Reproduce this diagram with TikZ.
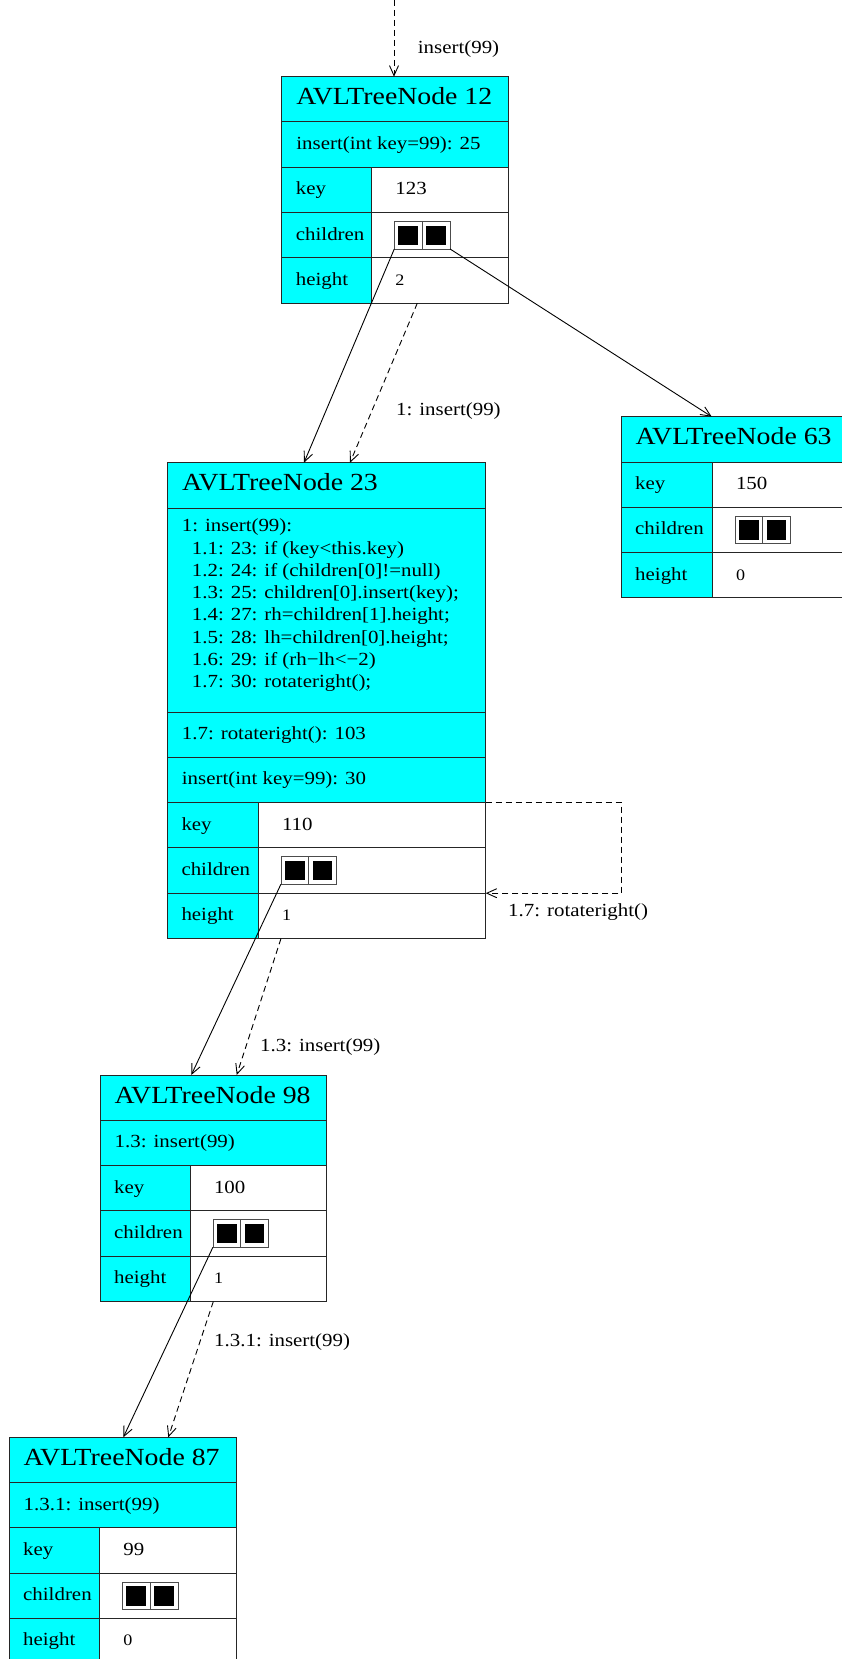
\documentclass[tikz,border=0pt]{standalone}
\usepackage{fontspec}
\setmainfont{Liberation Serif}[FakeStretch=1.13]
\usetikzlibrary{arrows.meta}

\definecolor{avlcyan}{RGB}{0,255,255}
\definecolor{edge}{gray}{0.15}

\newcommand\rh{45.3}

\tikzset{
  cellbox/.style={draw=edge, line width=1pt, inner sep=0pt, outer sep=0pt,
    anchor=north west, rectangle},
  cy/.style={cellbox, fill=avlcyan},
  wh/.style={cellbox, fill=white},
  frame/.style={draw=edge, line width=1pt, inner sep=0pt, outer sep=0pt,
    anchor=north west, rectangle},
  ttl/.style={anchor=base west, inner sep=0pt, font=\fontsize{24.6}{29}\selectfont},
  txt/.style={anchor=base west, inner sep=0pt, font=\fontsize{18.5}{22}\selectfont},
  small/.style={anchor=base west, inner sep=0pt, font=\fontsize{16}{19}\selectfont},
  kidsframe/.style={draw=black!70, fill=white, line width=0.8pt, inner sep=0pt,
    outer sep=0pt, minimum width=55.7pt, minimum height=27.4pt, anchor=west},
  blk/.style={fill=black, draw=none, inner sep=0pt, minimum width=19.7pt,
    minimum height=19.4pt},
  link/.style={line width=0.9pt, -{Straight Barb[length=10pt,width=9pt]}},
  msg/.style={link, dash pattern=on 6pt off 4pt},
}

% An AVL tree node: title row, an optional cyan area below it,
% and the three fields key / children / height.
% #1 id, #2 left, #3 top, #4 width, #5 key column width,
% #6 title, #7 key value, #8 height value, #9 height of the area below the title
\newcommand\avlnode[9]{%
  \node[cy, minimum width=#4, minimum height=\rh] (#1t) at (#2,#3) {};
  \node[ttl] (#1tl) at (#2+14.5,#3+\rh/2+5.6) {#6};
  \pgfmathsetmacro\fy{#3+\rh+#9}%
  % key
  \node[cy, minimum width=#5, minimum height=\rh] (#1kk) at (#2,\fy) {};
  \node[wh, minimum width=#4-#5, minimum height=\rh] (#1kv) at (#2+#5,\fy) {};
  \node[txt] (#1kkl) at (#2+14,\fy+\rh/2+4.8) {key};
  \node[txt] (#1kvl) at (#2+#5+23.5,\fy+\rh/2+4.8) {#7};
  % children
  \node[cy, minimum width=#5, minimum height=\rh] (#1ck) at (#2,\fy+\rh) {};
  \node[wh, minimum width=#4-#5, minimum height=\rh] (#1cv) at (#2+#5,\fy+\rh) {};
  \node[txt] (#1ckl) at (#2+14,\fy+1.5*\rh+4.8) {children};
  \node[kidsframe] (#1box) at (#2+#5+22.6,\fy+1.5*\rh) {};
  \draw[draw=black!70, line width=0.8pt] (#1box.north) -- (#1box.south);
  \node[blk] (#1sa) at (#2+#5+22.6+14,\fy+1.5*\rh) {};
  \node[blk] (#1sb) at (#2+#5+22.6+41.5,\fy+1.5*\rh) {};
  % height
  \node[cy, minimum width=#5, minimum height=\rh] (#1hk) at (#2,\fy+2*\rh) {};
  \node[wh, minimum width=#4-#5, minimum height=\rh] (#1hv) at (#2+#5,\fy+2*\rh) {};
  \node[txt] (#1hkl) at (#2+14,\fy+2.5*\rh+4.8) {height};
  \node[small] (#1hvl) at (#2+#5+23.5,\fy+2.5*\rh+4.8) {#8};
  % outline of the whole node
  \node[frame, minimum width=#4, minimum height=4*\rh+#9] (#1) at (#2,#3) {};
}

\begin{document}
\begin{tikzpicture}[x=1pt,y=-1pt]
\useasboundingbox (0,0) rectangle (842,1659);
\clip (0,0) rectangle (842,1659);

% ---- node 12 ----
\avlnode{n12}{281.7}{76.7}{226.6}{90}{AVLTreeNode 12}{123}{2}{\rh}
\node[cy, minimum width=226.6, minimum height=\rh] (n12m) at (281.7,122.0) {};
\node[txt] (n12ml) at (296.2,122.0+\rh/2+4.8) {insert(int key=99): 25};

% ---- node 63 ----
\avlnode{n63}{621}{416.7}{227}{91.3}{AVLTreeNode 63}{150}{0}{0}

% ---- node 23 ----
\avlnode{n23}{167.3}{462.7}{318.4}{91}{AVLTreeNode 23}{110}{1}{294.6}
\node[cy, minimum width=318.4, minimum height=204] (n23code) at (167.3,508.0) {};
\node[txt] (n23c0) at (181.7,531.7) {1: insert(99):};
\node[txt] (n23c1) at (191.7,531.7+22.3) {1.1: 23: if (key<this.key)};
\node[txt] (n23c2) at (191.7,531.7+2*22.3) {1.2: 24: if (children[0]!=null)};
\node[txt] (n23c3) at (191.7,531.7+3*22.3) {1.3: 25: children[0].insert(key);};
\node[txt] (n23c4) at (191.7,531.7+4*22.3) {1.4: 27: rh=children[1].height;};
\node[txt] (n23c5) at (191.7,531.7+5*22.3) {1.5: 28: lh=children[0].height;};
\node[txt] (n23c6) at (191.7,531.7+6*22.3) {1.6: 29: if (rh−lh<−2)};
\node[txt] (n23c7) at (191.7,531.7+7*22.3) {1.7: 30: rotateright();};
\node[cy, minimum width=318.4, minimum height=\rh] (n23r) at (167.3,712.0) {};
\node[txt] (n23rl) at (181.7,712.0+\rh/2+4.8) {1.7: rotateright(): 103};
\node[cy, minimum width=318.4, minimum height=\rh] (n23i) at (167.3,757.3) {};
\node[txt] (n23il) at (181.7,757.3+\rh/2+4.8) {insert(int key=99): 30};

% ---- node 98 ----
\avlnode{n98}{100}{1075}{226.7}{90.3}{AVLTreeNode 98}{100}{1}{\rh}
\node[cy, minimum width=226.7, minimum height=\rh] (n98m) at (100,1120.3) {};
\node[txt] (n98ml) at (114.5,1120.3+\rh/2+4.8) {1.3: insert(99)};

% ---- node 87 ----
\avlnode{n87}{9}{1437.3}{227}{90.7}{AVLTreeNode 87}{99}{0}{\rh}
\node[cy, minimum width=227, minimum height=\rh] (n87m) at (9,1482.6) {};
\node[txt] (n87ml) at (23.5,1482.6+\rh/2+4.8) {1.3.1: insert(99)};

% ---- references and calls ----
\coordinate (start) at (394,0);
\draw[msg] (start) -- (start |- n12.north);
\node[txt] (m0) at (417.7,53.5) {insert(99)};

\draw[link] (n12box.south west) -- ([xshift=136.7pt]n23.north west);
\draw[msg] ([xshift=135.6pt]n12.south west) -- ([xshift=182.7pt]n23.north west);
\node[txt] (m1) at (396,415.5) {1: insert(99)};
\draw[link] (n12box.south east) -- ([xshift=90.7pt]n63.north west);

\draw[msg] (n23kv.north east) -- ++(136,0) |- (n23cv.south east);
\node[txt] (m17) at (508,916) {1.7: rotateright()};

\draw[link] (n23box.south west) -- ([xshift=91.3pt]n98.north west);
\draw[msg] ([xshift=113.7pt]n23.south west) -- ([xshift=136.7pt]n98.north west);
\node[txt] (m13) at (260,1051) {1.3: insert(99)};

\draw[link] (n98box.south west) -- ([xshift=114.3pt]n87.north west);
\draw[msg] ([xshift=113.3pt]n98.south west) -- ([xshift=159.3pt]n87.north west);
\node[txt] (m131) at (214,1346) {1.3.1: insert(99)};
\end{tikzpicture}
\end{document}
